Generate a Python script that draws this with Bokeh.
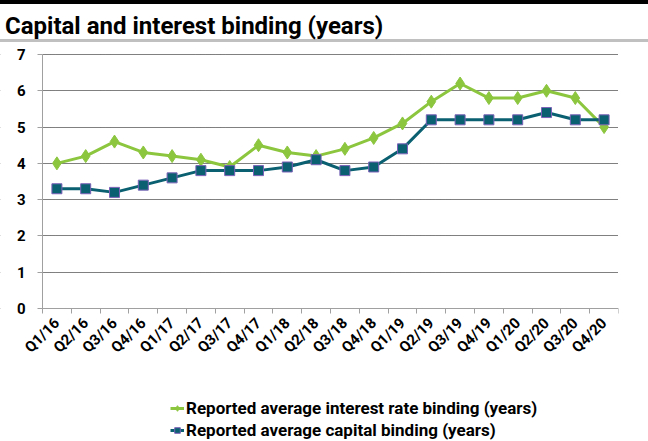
import math
from bokeh.plotting import figure
from bokeh.models import (Range1d, FixedTicker, Div, Legend, LegendItem, ColumnDataSource,
                          BoxAnnotation)
from bokeh.layouts import column
from bokeh.embed import file_html
from bokeh.resources import INLINE

quarters = ["Q1/16", "Q2/16", "Q3/16", "Q4/16", "Q1/17", "Q2/17", "Q3/17", "Q4/17",
            "Q1/18", "Q2/18", "Q3/18", "Q4/18", "Q1/19", "Q2/19", "Q3/19", "Q4/19",
            "Q1/20", "Q2/20", "Q3/20", "Q4/20"]
interest = [4.0, 4.2, 4.6, 4.3, 4.2, 4.1, 3.9, 4.5, 4.3, 4.2, 4.4, 4.7, 5.1, 5.7, 6.2,
            5.8, 5.8, 6.0, 5.8, 5.0]
capital = [3.3, 3.3, 3.2, 3.4, 3.6, 3.8, 3.8, 3.8, 3.9, 4.1, 3.8, 3.9, 4.4, 5.2, 5.2,
           5.2, 5.2, 5.4, 5.2, 5.2]
y_ticks = [0, 1, 2, 3, 4, 5, 6, 7]

NARROW = "Liberation Sans Narrow, Roboto, sans-serif"
FONT = "Roboto, sans-serif"
GREEN = "#8cc63f"
TEAL = "#0a6070"
PURPLE = "#7b61b8"

n = len(quarters)
xs = list(range(n))
src = ColumnDataSource(dict(x=xs, interest=interest, capital=capital))

header = Div(
    text="Capital and interest binding (years)",
    width=648, height=42, margin=0,
    styles={
        "border-top": "4px solid black",
        "border-bottom": "3px solid #c0c0c0",
        "font-family": NARROW,
        "font-weight": "bold",
        "font-size": "24px",
        "padding-left": "5px",
        "padding-top": "5px",
        "box-sizing": "border-box",
        "color": "black",
    },
)

# The frame covers the page below the header (minus a right margin); the
# axes are fixed at the plot-area edges so labels and legend stay visible.
PLOT_LEFT_PX, PLOT_TOP_PX, PLOT_W_PX, PLOT_H_PX, FRAME_H = 42, 12, 576, 254, 399
px_x = PLOT_W_PX / n
px_y = PLOT_H_PX / 7
x_lo = -0.5 - PLOT_LEFT_PX / px_x
y_hi = 7 + PLOT_TOP_PX / px_y
y_lo = y_hi - FRAME_H / px_y

p = figure(width=648, height=FRAME_H, title=None, output_backend="svg", toolbar_location=None,
           x_range=Range1d(x_lo, n - 0.5), y_range=Range1d(y_lo, y_hi),
           min_border_left=0, min_border_right=30, min_border_top=0,
           min_border_bottom=0, margin=0)
p.outline_line_color = None
p.background_fill_color = "white"

# x axis
xa = p.xaxis[0]
xa.fixed_location = 0
xa.bounds = (-0.5, n - 0.5)
xa.ticker = FixedTicker(ticks=xs, minor_ticks=[i - 0.5 for i in range(n + 1)])
xa.major_label_overrides = {i: q for i, q in enumerate(quarters)}
xa.major_label_orientation = math.pi / 4
xa.major_tick_line_color = None
xa.minor_tick_line_color = "#a0a0a0"
xa.minor_tick_out = 5
xa.minor_tick_in = 0
xa.axis_line_color = "#a0a0a0"
xa.major_label_text_font = FONT
xa.major_label_text_font_style = "bold"
xa.major_label_text_font_size = "15px"
xa.major_label_text_color = "black"
xa.major_label_standoff = 6

# y axis
ya = p.yaxis[0]
ya.fixed_location = -0.5
ya.ticker = FixedTicker(ticks=y_ticks)
ya.bounds = (0, 7)
ya.axis_line_color = "#a0a0a0"
ya.major_tick_line_color = "#a0a0a0"
ya.major_tick_out = 5
ya.major_tick_in = 0
ya.minor_tick_line_color = None
ya.major_label_text_font = FONT
ya.major_label_text_font_style = "bold"
ya.major_label_text_font_size = "15px"
ya.major_label_text_color = "black"
ya.major_label_standoff = 12

p.xgrid.grid_line_color = None
p.ygrid.grid_line_color = "#000000"
p.ygrid.grid_line_dash = "1 1"
p.ygrid.grid_line_width = 1

# keep the dotted grid lines inside the plot area (left of the y axis is blank)
p.add_layout(BoxAnnotation(left=x_lo - 1, right=-0.5, bottom=-0.5, top=7.5,
                           fill_color="white", fill_alpha=1, line_color=None,
                           level="underlay"))

l1 = p.line("x", "interest", source=src, line_color=GREEN, line_width=3)
m1 = p.scatter("x", "interest", source=src, marker="diamond", size=13,
               fill_color=GREEN, line_color=GREEN)
l2 = p.line("x", "capital", source=src, line_color=TEAL, line_width=3)
m2 = p.scatter("x", "capital", source=src, marker="square", size=10,
               fill_color=TEAL, line_color=PURPLE, line_width=1)

legend = Legend(items=[
    LegendItem(label="Reported average interest rate binding (years)", renderers=[l1, m1]),
    LegendItem(label="Reported average capital binding (years)", renderers=[l2, m2]),
], orientation="vertical", location=(170, 1))
legend.label_text_font = NARROW
legend.label_text_font_style = "bold"
legend.label_text_font_size = "17px"
legend.label_text_color = "black"
legend.border_line_color = None
legend.background_fill_alpha = 0
legend.glyph_width = 14
legend.glyph_height = 14
legend.label_height = 20
legend.label_standoff = 2
legend.spacing = 2
legend.padding = 0
legend.margin = 0
p.add_layout(legend, "center")

layout = column(header, p, spacing=0)
open("out.html", "w").write(file_html(layout, INLINE))
